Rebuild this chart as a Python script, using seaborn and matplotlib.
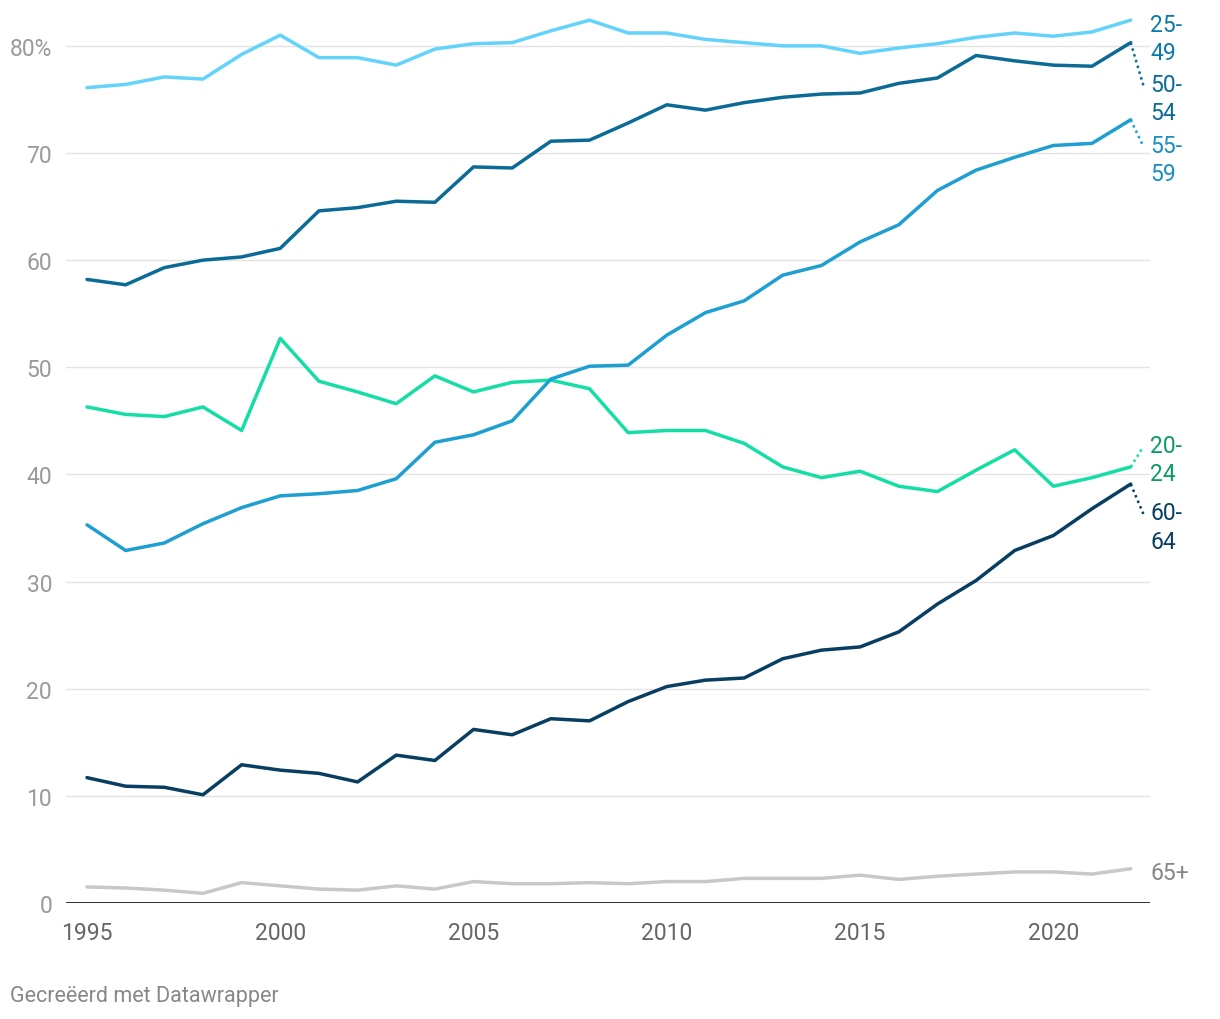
import numpy as np
import pandas as pd
import matplotlib
matplotlib.use("Agg")
import matplotlib.pyplot as plt
import seaborn as sns

years = list(range(1995, 2023))

age_20_24 = [46.3, 45.6, 45.4, 46.3, 44.1, 52.7, 48.7, 47.7, 46.6, 49.2, 47.7, 48.6, 48.8, 48.0,
             43.9, 44.1, 44.1, 42.9, 40.7, 39.7, 40.3, 38.9, 38.4, 40.4, 42.3, 38.9, 39.7, 40.7]
age_25_49 = [76.1, 76.4, 77.1, 76.9, 79.2, 81.0, 78.9, 78.9, 78.2, 79.7, 80.2, 80.3, 81.4, 82.4,
             81.2, 81.2, 80.6, 80.3, 80.0, 80.0, 79.3, 79.8, 80.2, 80.8, 81.2, 80.9, 81.3, 82.4]
age_50_54 = [58.2, 57.7, 59.3, 60.0, 60.3, 61.1, 64.6, 64.9, 65.5, 65.4, 68.7, 68.6, 71.1, 71.2,
             72.8, 74.5, 74.0, 74.7, 75.2, 75.5, 75.6, 76.5, 77.0, 79.1, 78.6, 78.2, 78.1, 80.3]
age_55_59 = [35.3, 32.9, 33.6, 35.4, 36.9, 38.0, 38.2, 38.5, 39.6, 43.0, 43.7, 45.0, 48.9, 50.1,
             50.2, 53.0, 55.1, 56.2, 58.6, 59.5, 61.7, 63.3, 66.5, 68.4, 69.6, 70.7, 70.9, 73.1]
age_60_64 = [11.7, 10.9, 10.8, 10.1, 12.9, 12.4, 12.1, 11.3, 13.8, 13.3, 16.2, 15.7, 17.2, 17.0,
             18.8, 20.2, 20.8, 21.0, 22.8, 23.6, 23.9, 25.3, 27.9, 30.1, 32.9, 34.3, 36.8, 39.1]
age_65_plus = [1.5, 1.4, 1.2, 0.9, 1.9, 1.6, 1.3, 1.2, 1.6, 1.3, 2.0, 1.8, 1.8, 1.9,
               1.8, 2.0, 2.0, 2.3, 2.3, 2.3, 2.6, 2.2, 2.5, 2.7, 2.9, 2.9, 2.7, 3.2]

series_names = ["65+", "25-49", "50-54", "20-24", "60-64", "55-59"]
series_values = [age_65_plus, age_25_49, age_50_54, age_20_24, age_60_64, age_55_59]

line_colors = {"20-24": "#15dea5", "25-49": "#63d3fc", "50-54": "#0b6b96",
               "55-59": "#1d9fd1", "60-64": "#073e61", "65+": "#c8c8c8"}
label_colors = {"20-24": "#0b9a68", "25-49": "#0b7aa6", "50-54": "#0b6b96",
                "55-59": "#1a8fc0", "60-64": "#073e61", "65+": "#888888"}
# label block centre (value units) and whether a dotted connector is drawn
label_pos = {"25-49": (80.7, False), "50-54": (75.1, True), "55-59": (69.4, True),
             "20-24": (41.4, True), "60-64": (35.1, True), "65+": (2.8, False)}

y_ticks = [0, 10, 20, 30, 40, 50, 60, 70, 80]
y_tick_labels = ["0", "10", "20", "30", "40", "50", "60", "70", "80%"]
x_ticks = [1995, 2000, 2005, 2010, 2015, 2020]

df = pd.DataFrame({
    "year": np.tile(years, len(series_names)),
    "value": np.concatenate(series_values),
    "group": np.repeat(series_names, len(years)),
})

sns.set_theme(style="white")
plt.rcParams["font.family"] = ["Roboto", "DejaVu Sans"]

fig = plt.figure(figsize=(12.2, 10.2), dpi=100)
ax = fig.add_axes([66 / 1220, (1020 - 904) / 1020, (1150 - 66) / 1220, 900 / 1020])

sns.lineplot(data=df, x="year", y="value", hue="group", palette=line_colors,
             hue_order=series_names, linewidth=2.5, ax=ax, legend=False)
for l in ax.lines:
    l.set_solid_capstyle("round")
    l.set_solid_joinstyle("round")

ax.set_xlim(1994.457, 2022.5)
ax.set_ylim(0, 84)
for t in y_ticks[1:]:
    ax.axhline(t, color="#e3e3e3", lw=1.0, zorder=0)
ax.axhline(0, color="#1a1a1a", lw=2.0, zorder=3)

ax.set_yticks(y_ticks)
ax.set_yticklabels(y_tick_labels)
ax.set_xticks(x_ticks)
ax.tick_params(axis="y", length=0, pad=10, labelsize=16.5, labelcolor="#9a9a9a")
ax.tick_params(axis="x", length=0, pad=13, labelsize=16.5, labelcolor="#666666")
ax.set_xlabel("")
ax.set_ylabel("")
for s in ax.spines.values():
    s.set_visible(False)

# end-of-line labels
last_year = years[-1]
for name, vals in zip(series_names, series_values):
    ly, connector = label_pos[name]
    txt = name if name == "65+" else name.replace("-", "-\n", 1)
    ax.text(2022.5, ly, txt, color=label_colors[name], fontsize=16.5, va="center",
            ha="left", linespacing=1.3, clip_on=False)
    if connector:
        top_line = ly + 1.2
        ax.plot([last_year, 2022.33], [vals[-1], top_line], ls=(0, (1.0, 1.4)),
                lw=1.8, color=line_colors[name], clip_on=False)

fig.text(10 / 1220, 1 - 997 / 1020, "Gecreëerd met Datawrapper", fontsize=15.5,
         color="#888888", va="center", ha="left")

fig.savefig("out.png", dpi=100, facecolor="white")
